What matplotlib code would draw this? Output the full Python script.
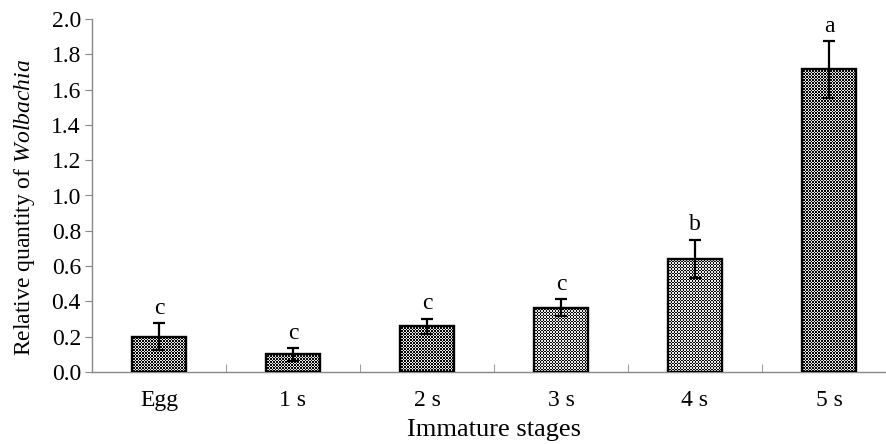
import numpy as np
import matplotlib
matplotlib.use("Agg")
import matplotlib.pyplot as plt
from matplotlib.ticker import MultipleLocator, FixedLocator

# data
stages = ["Egg", "1 s", "2 s", "3 s", "4 s", "5 s"]
quantity = [0.20, 0.10, 0.26, 0.365, 0.64, 1.715]
sem = [0.075, 0.035, 0.043, 0.047, 0.11, 0.16]
letters = ["c", "c", "c", "c", "b", "a"]

plt.rcParams["font.family"] = ["Liberation Serif", "DejaVu Serif"]
plt.rcParams["mathtext.fontset"] = "custom"
plt.rcParams["mathtext.rm"] = "Liberation Serif"
plt.rcParams["mathtext.it"] = "Liberation Serif:italic"

fig = plt.figure(figsize=(8.87, 4.44), dpi=100)
ax = fig.add_axes([92 / 887, 1 - 372 / 444, 804 / 887, 353 / 444])

x = np.arange(len(stages))
bars = ax.bar(x, quantity, width=0.4, facecolor="none", edgecolor="black",
              linewidth=1.7, zorder=3)

# checkered fill, clipped to each bar
for b in bars:
    x0, y0 = b.get_x(), b.get_y()
    w, h = b.get_width(), b.get_height()
    nx = 36
    ny = max(int(round(h * 176.5 / 1.5)), 2)
    ii, jj = np.indices((ny, nx))
    tex = (ii + jj) % 2
    im = ax.imshow(tex, cmap="gray", vmin=-0.02, vmax=1.1, interpolation="nearest",
                   extent=(x0, x0 + w, y0, y0 + h), aspect="auto", zorder=2)
    im.set_clip_path(b)

ax.errorbar(x, quantity, yerr=sem, fmt="none", ecolor="black", elinewidth=1.6,
            capsize=4, capthick=1.6, zorder=4)

for xi, q, e, lab in zip(x, quantity, sem, letters):
    ax.text(xi, q + e + 0.025, lab, ha="center", va="bottom", fontsize=17,
            clip_on=False)

ax.set_xlim(-0.5, 5.5)
ax.set_ylim(0, 2.0)
ax.yaxis.set_major_locator(MultipleLocator(0.2))
ax.yaxis.set_major_formatter(matplotlib.ticker.FormatStrFormatter("%.1f"))
ax.set_xticks(x)
ax.set_xticklabels(stages)
ax.xaxis.set_minor_locator(FixedLocator(np.arange(0.5, 5.0, 1.0)))
ax.tick_params(axis="x", which="major", length=0, pad=13, labelsize=17)
ax.tick_params(axis="x", which="minor", direction="in", length=6, color="#888888")
ax.tick_params(axis="y", direction="out", length=5, color="#888888", labelsize=17, pad=3)

for s in ["top", "right"]:
    ax.spines[s].set_visible(False)
for s in ["left", "bottom"]:
    ax.spines[s].set_color("#888888")
    ax.spines[s].set_linewidth(1.0)

ax.set_xlabel("Immature stages", fontsize=19, labelpad=6)
ax.set_ylabel(r"Relative quantity of $\it{Wolbachia}$", fontsize=17)
ax.yaxis.set_label_coords(-0.069, 0.467)

fig.savefig("out.png", dpi=100)
